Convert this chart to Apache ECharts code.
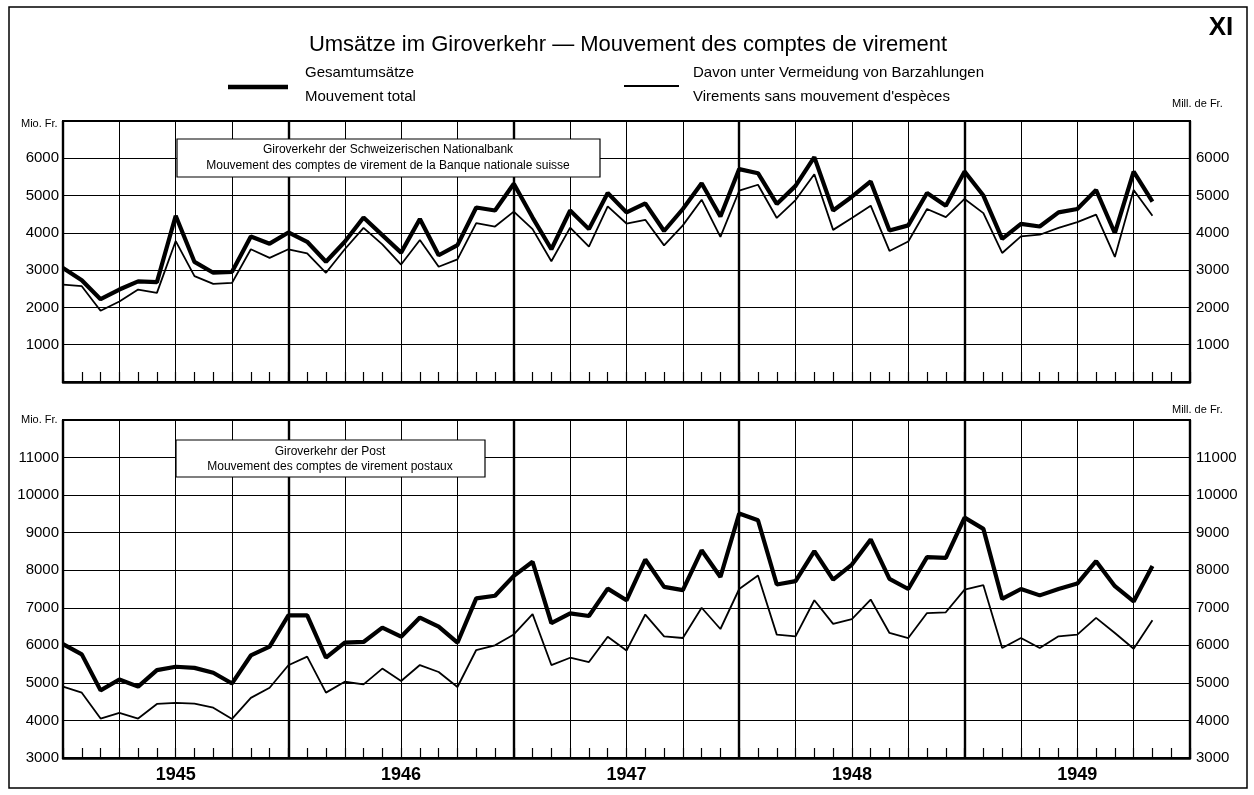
<!DOCTYPE html>
<html>
<head>
<meta charset="utf-8">
<title>Umsätze im Giroverkehr</title>
<script src="https://cdn.jsdelivr.net/npm/echarts@6/dist/echarts.min.js"></script>
<style>
  html, body { margin: 0; padding: 0; background: #fff; }
  #chart { width: 1254px; height: 795px; }
</style>
</head>
<body>
<div id="chart"></div>
<script>
// Monatswerte Jan. 1945 - Nov. 1949, Mio. Fr.
var snbTotal = [
  3060, 2730, 2220, 2480, 2700, 2680, 4460, 3220, 2930, 2955,
  3900, 3710, 4010, 3760, 3225, 3760, 4410, 3940, 3470, 4370,
  3400, 3670, 4680, 4600, 5315, 4410, 3560, 4600, 4100, 5070,
  4550, 4790, 4050, 4640, 5330, 4440, 5710, 5600, 4775, 5260,
  6030, 4600, 4970, 5380, 4065, 4200, 5070, 4730, 5645, 5000,
  3840, 4240, 4170, 4550, 4640, 5150, 3990, 5645, 4840
];
var snbVirement = [
  2610, 2570, 1910, 2160, 2480, 2390, 3780, 2840, 2630, 2660,
  3560, 3330, 3560, 3450, 2930, 3560, 4135, 3690, 3150, 3810,
  3090, 3290, 4260, 4170, 4570, 4100, 3240, 4140, 3630, 4710,
  4250, 4350, 3665, 4200, 4890, 3890, 5130, 5290, 4400, 4880,
  5570, 4080, 4400, 4730, 3515, 3770, 4640, 4420, 4910, 4530,
  3460, 3905, 3950, 4135, 4290, 4490, 3355, 5150, 4460
];
var postTotal = [
  6030, 5760, 4800, 5090, 4900, 5340, 5430, 5400, 5270, 4985,
  5730, 5965, 6800, 6800, 5670, 6070, 6090, 6470, 6230, 6740,
  6500, 6070, 7250, 7320, 7850, 8225, 6590, 6850, 6780, 7510,
  7200, 8285, 7555, 7470, 8530, 7820, 9510, 9330, 7620, 7710,
  8510, 7750, 8150, 8820, 7770, 7500, 8350, 8330, 9400, 9100,
  7235, 7500, 7330, 7500, 7645, 8240, 7575, 7170, 8110
];
var postVirement = [
  4900, 4740, 4050, 4200, 4050, 4440, 4470, 4450, 4340, 4040,
  4600, 4870, 5470, 5700, 4740, 5030, 4960, 5380, 5050, 5475,
  5290, 4890, 5875, 6000, 6290, 6830, 5475, 5670, 5555, 6230,
  5860, 6820, 6240, 6195, 7000, 6435, 7500, 7860, 6285, 6240,
  7200, 6570, 6700, 7220, 6330, 6195, 6860, 6880, 7485, 7600,
  5930, 6195, 5930, 6240, 6285, 6730, 6330, 5910, 6670
];
var years = ['1945', '1946', '1947', '1948', '1949'];
var snbLabels = [1000, 2000, 3000, 4000, 5000, 6000];
var postLabels = [3000, 4000, 5000, 6000, 7000, 8000, 9000, 10000, 11000];

var FONT = "'Liberation Sans', Arial, sans-serif";
var chart = echarts.init(document.getElementById('chart'));

function pairs(arr) {
  return arr.map(function (v, i) { return [i, v]; });
}

// Monatsachse: Gitter alle 3 Monate, Striche jeden Monat
function monthAxis(grid, withYears) {
  return {
    type: 'value', gridIndex: grid, min: 0, max: 60, interval: 3,
    axisLine: { show: true, lineStyle: { color: '#000', width: 2.5 } },
    axisTick: { show: true, inside: true, length: 10, lineStyle: { color: '#000', width: 1.2 } },
    minorTick: { show: true, splitNumber: 3, length: 10, lineStyle: { color: '#000', width: 1.2 } },
    splitLine: { show: true, lineStyle: { color: '#000', width: 1 } },
    axisLabel: {
      show: withYears, margin: 8, color: '#000', fontFamily: FONT, fontSize: 18, fontWeight: 'bold',
      formatter: function (v) {
        return v % 12 === 6 ? years[(v - 6) / 12] : '';
      }
    }
  };
}
// Jahresgrenzen (dicke Linien)
function yearAxis(grid) {
  return {
    type: 'value', gridIndex: grid, min: 0, max: 60, interval: 12,
    axisLine: { show: false }, axisTick: { show: false }, axisLabel: { show: false },
    splitLine: { show: true, lineStyle: { color: '#000', width: 2.4 } }
  };
}
function valueAxis(grid, pos, max, min, labels) {
  return {
    type: 'value', gridIndex: grid, position: pos, min: min, max: max, interval: 1000,
    axisLine: { show: true, lineStyle: { color: '#000', width: 2 } },
    axisTick: { show: false },
    splitLine: { show: pos === 'left', lineStyle: { color: '#000', width: 1 } },
    axisLabel: {
      color: '#000', fontFamily: FONT, fontSize: 15, margin: pos === 'left' ? 4 : 6,
      formatter: function (v) { return labels.indexOf(v) >= 0 ? String(v) : ''; }
    }
  };
}
function line(xi, yi, data, w) {
  return {
    type: 'line', xAxisIndex: xi, yAxisIndex: yi, data: pairs(data),
    symbol: 'none', silent: true,
    lineStyle: { color: '#000', width: w }
  };
}

function text(x, y, str, size, extra) {
  var st = { text: str, fill: '#000', font: (extra && extra.weight ? extra.weight + ' ' : '') + size + 'px ' + FONT,
    align: (extra && extra.align) || 'left', verticalAlign: 'middle' };
  return { type: 'text', x: x, y: y, z: 100, style: st };
}
function box(x, y, w, h) {
  return { type: 'rect', z: 99, shape: { x: x, y: y, width: w, height: h },
    style: { fill: '#fff', stroke: '#000', lineWidth: 1.2 } };
}

var option = {
  animation: false,
  backgroundColor: '#fff',
  grid: [
    { left: 63, top: 121, width: 1127, height: 261, show: true, borderColor: '#000', borderWidth: 2 },
    { left: 63, top: 420, width: 1127, height: 338, show: true, borderColor: '#000', borderWidth: 2 }
  ],
  xAxis: [monthAxis(0, false), yearAxis(0), monthAxis(1, true), yearAxis(1)],
  yAxis: [
    valueAxis(0, 'left', 7000, 0, snbLabels),
    valueAxis(0, 'right', 7000, 0, snbLabels),
    valueAxis(1, 'left', 12000, 3000, postLabels),
    valueAxis(1, 'right', 12000, 3000, postLabels)
  ],
  series: [
    line(0, 0, snbTotal, 4.2),
    line(0, 0, snbVirement, 1.8),
    line(2, 2, postTotal, 4.2),
    line(2, 2, postVirement, 1.8)
  ],
  graphic: [
    { type: 'rect', z: 1, shape: { x: 9, y: 7, width: 1238, height: 781 },
      style: { fill: 'none', stroke: '#000', lineWidth: 1.5 } },
    text(628, 45, 'Umsätze im Giroverkehr — Mouvement des comptes de virement', 22, { align: 'center' }),
    text(1221, 28, 'XI', 26, { align: 'center', weight: 'bold' }),
    { type: 'line', z: 100, shape: { x1: 228, y1: 87, x2: 288, y2: 87 }, style: { stroke: '#000', lineWidth: 4.5 } },
    text(305, 73, 'Gesamtumsätze', 15),
    text(305, 97, 'Mouvement total', 15),
    { type: 'line', z: 100, shape: { x1: 624, y1: 86, x2: 679, y2: 86 }, style: { stroke: '#000', lineWidth: 2 } },
    text(693, 73, 'Davon unter Vermeidung von Barzahlungen', 15),
    text(693, 97, "Virements sans mouvement d'espèces", 15),
    text(21, 124, 'Mio. Fr.', 11),
    text(1172, 104, 'Mill. de Fr.', 11),
    text(21, 420, 'Mio. Fr.', 11),
    text(1172, 410, 'Mill. de Fr.', 11),
    box(177, 139, 423, 38),
    text(388, 150, 'Giroverkehr der Schweizerischen Nationalbank', 12, { align: 'center' }),
    text(388, 166, 'Mouvement des comptes de virement de la Banque nationale suisse', 12, { align: 'center' }),
    box(176, 440, 309, 37),
    text(330, 452, 'Giroverkehr der Post', 12, { align: 'center' }),
    text(330, 467, 'Mouvement des comptes de virement postaux', 12, { align: 'center' })
  ]
};
chart.setOption(option);
</script>
</body>
</html>
